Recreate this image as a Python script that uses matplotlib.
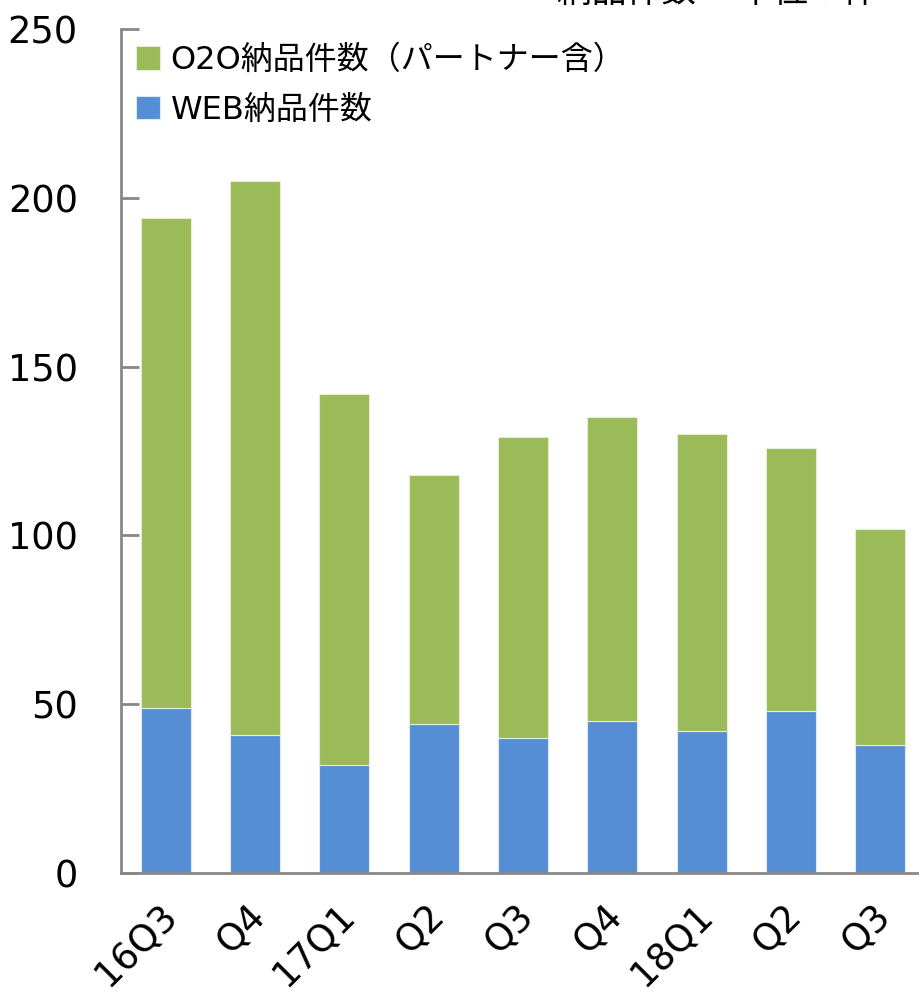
import matplotlib.pyplot as plt
import matplotlib.transforms as mtrans
import numpy as np

plt.rcParams['font.family'] = ['DejaVu Sans', 'Noto Sans CJK JP']

# 四半期ごとの納品件数
区分 = ["16Q3", "Q4", "17Q1", "Q2", "Q3", "Q4", "18Q1", "Q2", "Q3"]
WEB件数 = [49, 41, 32, 44, 40, 45, 42, 48, 38]
O2O件数 = [145, 164, 110, 74, 89, 90, 88, 78, 64]

緑 = "#9BBB59"
青 = "#558ED5"

fig = plt.figure(figsize=(9.19, 9.93), dpi=100)
ax = fig.add_axes([121 / 919, 120 / 993, 804 / 919, 844 / 993])

x = np.arange(len(区分))
ax.bar(x, WEB件数, width=0.56, color=青, edgecolor="#DDE8F5", linewidth=0.8,
       label="WEB納品件数")
ax.bar(x, O2O件数, width=0.56, bottom=WEB件数, color=緑, edgecolor="#E4EED4",
       linewidth=0.8, label="O2O納品件数（パートナー含）")

ax.set_xlim(-0.5, len(区分) - 0.5)
ax.set_ylim(0, 250)
ax.set_yticks([0, 50, 100, 150, 200, 250])
ax.tick_params(axis="y", direction="in", length=13, width=2, color="#888888",
               labelsize=26.5, pad=31)
ax.tick_params(axis="x", length=0, labelsize=26.5, pad=17)
ax.set_xticks(x)
ax.set_xticklabels(区分, rotation=45, ha="right", rotation_mode="anchor")
# ラベルを少し左へずらす
ずらし = mtrans.ScaledTranslation(-8 / 100, 0, fig.dpi_scale_trans)
for t in ax.get_xticklabels():
    t.set_transform(t.get_transform() + ずらし)

for s in ["top", "right"]:
    ax.spines[s].set_visible(False)
for s in ["left", "bottom"]:
    ax.spines[s].set_color("#888888")
    ax.spines[s].set_linewidth(2)

h, l = ax.get_legend_handles_labels()
ax.legend(h[::-1], l[::-1], loc="upper left",
          bbox_to_anchor=(15 / 804, 1 - 16 / 844),
          frameon=False, handlelength=0.76, handleheight=0.76,
          handletextpad=0.32, labelspacing=0.58, borderpad=0, borderaxespad=0,
          prop={"family": ["DejaVu Sans", "Noto Sans CJK JP"], "size": 23})

fig.text(557 / 919, 1 - 10 / 993, "納品件数　 単位：件", fontsize=25, ha="left",
         va="bottom", family=["Noto Sans CJK JP", "DejaVu Sans"])

fig.savefig("out.png", dpi=100)
